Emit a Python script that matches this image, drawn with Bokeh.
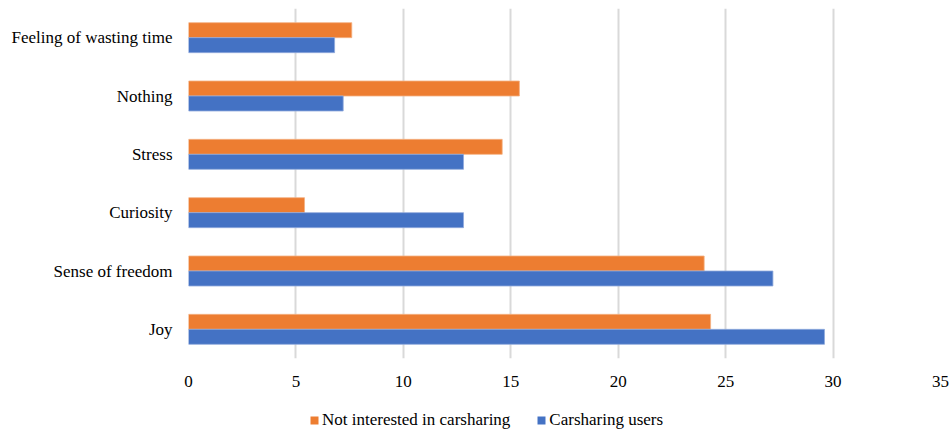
from bokeh.plotting import figure
from bokeh.layouts import column
from bokeh.models import ColumnDataSource, Legend, LegendItem, FixedTicker, Range1d, FactorRange
from bokeh.transform import dodge
from bokeh.embed import file_html
from bokeh.resources import INLINE

categories = ["Joy", "Sense of freedom", "Curiosity", "Stress", "Nothing", "Feeling of wasting time"]
not_interested = [24.3, 24.0, 5.4, 14.6, 15.4, 7.6]
carsharing_users = [29.6, 27.2, 12.8, 12.8, 7.2, 6.8]
x_ticks = [0, 5, 10, 15, 20, 25, 30, 35]
series_names = ["Not interested in carsharing", "Carsharing users"]

ORANGE = "#ED7D31"
BLUE = "#4472C4"
FONT = "Liberation Serif"

source = ColumnDataSource(dict(cat=categories, ni=not_interested, cu=carsharing_users))

p = figure(width=949, height=395, y_range=FactorRange(*categories, range_padding=0),
           x_range=Range1d(0, 35), output_backend="svg", toolbar_location=None,
           min_border_left=188, min_border_right=9, min_border_top=8, min_border_bottom=37)
p.outline_line_color = None
p.background_fill_color = "white"
p.border_fill_color = "white"

bw = 0.257
p.hbar(y=dodge("cat", bw / 2, range=p.y_range), right="ni", left=0, height=bw,
       source=source, fill_color=ORANGE, line_color="#F4B183", line_width=0.8)
p.hbar(y=dodge("cat", -bw / 2, range=p.y_range), right="cu", left=0, height=bw,
       source=source, fill_color=BLUE, line_color="#8FAADC", line_width=0.8)

p.xaxis.ticker = FixedTicker(ticks=x_ticks)
p.xgrid.ticker = FixedTicker(ticks=x_ticks)
p.xgrid.grid_line_color = "#D9D9D9"
p.xgrid.grid_line_width = 2
p.ygrid.grid_line_color = None

for ax in (p.xaxis[0], p.yaxis[0]):
    ax.axis_line_color = None
    ax.major_tick_line_color = None
    ax.minor_tick_line_color = None
    ax.major_label_text_font = FONT
    ax.major_label_text_font_size = "17px"
    ax.major_label_text_color = "#000000"
p.xaxis.major_label_standoff = 11
p.yaxis.major_label_standoff = 10

# legend strip below the chart (its swatch glyphs sit outside the visible range)
leg = figure(width=949, height=38, x_range=Range1d(0, 1), y_range=Range1d(0, 1),
             x_axis_type=None, y_axis_type=None, output_backend="svg", toolbar_location=None,
             min_border=0)
leg.outline_line_color = None
leg.grid.grid_line_color = None
g1 = leg.hbar(y=[-5], right=[1], left=0, height=0.1, fill_color=ORANGE, line_color=None)
g2 = leg.hbar(y=[-5], right=[1], left=0, height=0.1, fill_color=BLUE, line_color=None)

legend = Legend(items=[LegendItem(label=series_names[0], renderers=[g1]),
                       LegendItem(label=series_names[1], renderers=[g2])],
                orientation="horizontal", location=(121, 3),
                label_text_font=FONT, label_text_font_size="17px", label_text_color="#000000",
                glyph_width=10, glyph_height=10, label_standoff=3, spacing=26,
                padding=0, margin=0, border_line_color=None, background_fill_alpha=0,
                label_height=20)
leg.add_layout(legend, "center")

layout = column(p, leg, spacing=0)
open("out.html", "w").write(file_html(layout, INLINE))
